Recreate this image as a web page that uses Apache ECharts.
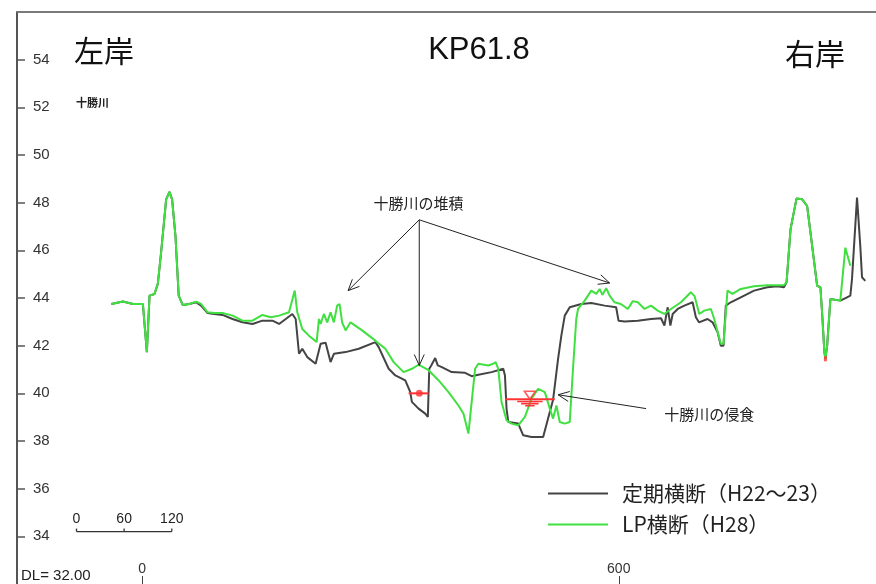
<!DOCTYPE html>
<html>
<head>
<meta charset="utf-8">
<script src="https://cdn.jsdelivr.net/npm/echarts@6/dist/echarts.min.js"></script>
<style>
  html, body { margin: 0; padding: 0; background: #fff; }
  #chart { width: 876px; height: 584px; }
</style>
</head>
<body>
<div id="chart"></div>
<script>
// 横断距離 (m) と標高 (m) — 定期横断 (H22〜23)
const surveyDist = [-38.9, -24.3, -11.8, 0.8, 5.8, 9.2, 15.4, 19.6, 23.8, 30.1, 34.3, 37.6, 41.8, 45.9, 50.9, 59.3,
  67.8, 74.0, 82.3, 90.7, 101.1, 113.7, 126.2, 138.8, 151.3, 163.9, 172.3, 180.7, 189.0, 193.2, 197.4, 201.5,
  207.8, 218.3, 224.6, 230.9, 237.1, 241.3, 256.0, 272.6, 293.6, 297.7, 310.3, 318.7, 331.2, 337.5, 339.5,
  347.9, 356.3, 359.6, 361.4, 363.9, 368.9, 372.1, 377.2, 389.7, 406.5, 414.8, 423.2, 439.9, 454.6, 456.7,
  458.7, 460.9, 473.4, 479.7, 490.1, 504.8, 511.0, 517.3, 523.6, 527.7, 532.0, 538.3, 552.8, 565.4, 582.2,
  596.7, 599.7, 607.3, 624.0, 640.6, 653.2, 657.5, 661.6, 665.0, 667.9, 674.2, 682.6, 693.0, 697.1, 701.0,
  711.8, 718.1, 724.4, 728.5, 731.9, 734.8, 741.0, 753.6, 770.4, 787.1, 799.6, 808.0, 811.3, 816.3, 823.8,
  831.0, 837.2, 843.5, 849.8, 853.9, 856.0, 858.9, 860.2, 862.4, 866.5, 879.0, 887.4, 891.6, 893.7, 900.0,
  904.1, 906.3, 910.4];
const surveyElev = [43.75, 43.85, 43.75, 43.75, 41.73, 44.10, 44.17, 44.59, 45.93, 48.14, 48.45, 48.14, 46.61, 44.10, 43.71, 43.75,
  43.82, 43.68, 43.37, 43.33, 43.29, 43.12, 42.98, 42.91, 43.05, 43.05, 42.91, 43.12, 43.33, 43.12, 41.66, 41.87,
  41.52, 41.24, 42.08, 42.12, 41.31, 41.66, 41.73, 41.87, 42.15, 41.94, 41.03, 40.75, 40.54, 40.05, 39.64,
  39.36, 39.15, 39.01, 41.03, 41.17, 41.48, 41.17, 41.10, 40.89, 40.86, 40.72, 40.78, 40.89, 41.03, 40.75,
  39.36, 38.80, 38.73, 38.24, 38.17, 38.17, 38.94, 39.73, 41.45, 42.42, 43.26, 43.61, 43.75, 43.79, 43.68,
  43.61, 43.05, 43.01, 43.05, 43.12, 43.15, 42.84, 43.61, 42.84, 43.33, 43.54, 43.68, 43.82, 43.19, 42.98,
  43.12, 42.98, 42.57, 42.00, 42.00, 43.68, 43.82, 44.03, 44.31, 44.45, 44.49, 44.45, 44.66, 46.89, 48.17,
  48.14, 47.86, 46.19, 44.51, 44.45, 43.40, 41.73, 41.45, 42.00, 43.96, 43.89, 44.03, 44.10, 44.80, 48.21,
  46.19, 44.87, 44.72];

// 横断距離 (m) と標高 (m) — LP横断 (H28)
const lpDist = [-38.9, -24.3, -11.8, 0.8, 5.8, 9.2, 15.4, 19.6, 23.8, 30.1, 34.3, 37.6, 41.8, 45.9, 50.9, 59.3,
  67.8, 74.0, 82.3, 90.7, 101.1, 113.7, 126.2, 138.8, 151.3, 161.9, 172.3, 184.8, 192.0, 195.2, 201.5, 209.9,
  219.6, 222.5, 224.6, 228.7, 232.9, 237.1, 241.3, 245.4, 248.4, 251.7, 256.0, 262.2, 276.8, 293.6, 306.1,
  316.6, 329.1, 339.5, 347.9, 360.5, 373.0, 385.6, 398.1, 404.4, 410.7, 414.8, 419.1, 423.2, 435.8, 442.0,
  444.9, 448.3, 452.4, 458.7, 465.0, 473.4, 481.8, 490.1, 498.5, 506.9, 513.2, 517.3, 521.5, 525.7, 532.0,
  538.3, 542.4, 546.5, 548.7, 557.1, 565.4, 571.7, 575.9, 579.4, 584.2, 588.5, 594.7, 602.6, 611.4, 617.7,
  624.0, 632.4, 640.6, 649.0, 657.5, 665.7, 678.3, 690.8, 695.4, 701.4, 707.7, 716.0, 720.2, 728.5, 731.9,
  736.9, 743.2, 753.6, 770.4, 787.1, 808.0, 811.3, 816.3, 823.8, 831.0, 837.2, 843.5, 849.8, 853.9, 856.0,
  858.9, 860.2, 862.4, 866.5, 879.0, 885.3, 891.6];
const lpElev = [43.75, 43.85, 43.75, 43.75, 41.73, 44.10, 44.17, 44.59, 45.93, 48.14, 48.45, 48.14, 46.61, 44.10, 43.71, 43.75,
  43.85, 43.75, 43.40, 43.37, 43.37, 43.26, 43.05, 43.05, 43.29, 43.19, 43.26, 43.40, 44.31, 43.40, 42.70, 42.42,
  42.15, 43.12, 42.91, 43.33, 42.98, 43.40, 42.98, 43.68, 43.75, 42.98, 42.64, 42.98, 42.64, 42.21, 41.87,
  41.31, 40.89, 41.03, 41.20, 40.97, 40.55, 40.05, 39.49, 39.15, 38.31, 39.64, 41.03, 41.24, 41.17, 41.24,
  41.31, 41.03, 39.64, 38.87, 38.73, 38.66, 39.01, 39.77, 40.19, 40.05, 39.36, 38.94, 39.49, 38.80, 38.73,
  38.80, 41.03, 43.12, 43.54, 43.89, 44.31, 44.17, 44.38, 44.13, 44.41, 44.10, 43.82, 43.75, 43.54, 43.87,
  43.82, 43.54, 43.68, 43.47, 43.33, 43.54, 43.82, 44.24, 44.08, 43.33, 43.47, 43.54, 43.12, 42.08, 42.08,
  44.31, 44.17, 44.38, 44.49, 44.54, 44.54, 44.66, 46.89, 48.17, 48.14, 47.86, 46.19, 44.51, 44.45, 43.40,
  41.73, 41.45, 42.00, 43.96, 43.89, 46.11, 45.35];

// 軸の目盛
const yTicks = [34, 36, 38, 40, 42, 44, 46, 48, 50, 52, 54];
const xTicks = [0, 600];

// 水位 [始点距離, 終点距離, 水位]
const waterLeft = [335.4, 360.5, 40.0];
const waterLeftDot = [348.8, 40.0];
const waterRight = [456.7, 519.4, 39.75];
const waterRightMark = [488.1, 39.75];
const lowPointMark = [860.2, 41.45];

// 注記: 十勝川の堆積 (文字位置, 矢印の根元, 矢印の先)
const depositLabel = [347.9, 47.97];
const depositOrigin = [348.8, 47.28];
const depositTips = [[259.2, 44.31], [348.8, 41.17], [588.5, 44.63]];
// 注記: 十勝川の侵食
const erosionLabel = [713.9, 39.10];
const erosionFrom = [634.4, 39.36];
const erosionTip = [523.6, 39.94];

// 縮尺バー (距離 m)
const scaleBarStart = -82.8;
const scaleBarLevel = 34.2;
const scaleBarMarks = [0, 60, 120];

const zip = (xs, ys) => xs.map((x, i) => [x, ys[i]]);
const jpFont = '"Noto Sans CJK JP", sans-serif';
const numFont = '"Liberation Sans", Arial, sans-serif';
const red = '#ff3333';

const chart = echarts.init(document.getElementById('chart'), null, { renderer: 'canvas' });

// 水位記号の下の横線 (幅が下へ狭まる)
const hatchRows = [[16, 0.09], [11, 0.18], [6, 0.27]];
const hatchSeries = hatchRows.map(([half, drop]) => ({
  type: 'line', silent: true, symbol: 'none', z: 5,
  lineStyle: { color: red, width: 1.6 },
  data: [[waterRightMark[0] - half, waterRightMark[1] - drop], [waterRightMark[0] + half, waterRightMark[1] - drop]]
}));

chart.setOption({
  animation: false,
  backgroundColor: '#fff',
  grid: { left: 17, top: 12, width: 862, height: 574 },
  xAxis: {
    type: 'value', min: -157.7, max: 923.9,
    axisLine: { show: false, onZero: false },
    splitLine: { show: false },
    axisTick: { show: true, inside: true, length: 8, customValues: xTicks, lineStyle: { color: '#444', width: 1 } },
    axisLabel: { inside: true, margin: 8, customValues: xTicks, color: '#333', fontSize: 14, fontFamily: numFont }
  },
  yAxis: {
    type: 'value', min: 32, max: 56, interval: 2,
    axisLine: { show: true, onZero: false, lineStyle: { color: '#555', width: 2 } },
    splitLine: { show: false },
    axisTick: { show: true, inside: true, length: 8, customValues: yTicks, lineStyle: { color: '#555', width: 1.5 } },
    axisLabel: { inside: true, margin: 16, customValues: yTicks, color: '#333', fontSize: 15, fontFamily: numFont }
  },
  legend: {
    left: 548, top: 483, orient: 'vertical', padding: 0,
    icon: 'rect', itemWidth: 60, itemHeight: 2, itemGap: 10,
    data: ['定期横断（H22～23）', 'LP横断（H28）'],
    textStyle: { fontFamily: jpFont, fontSize: 21, lineHeight: 21, color: '#222', padding: [0, 0, 0, 9] }
  },
  series: [
    {
      name: '定期横断（H22～23）', type: 'line', symbol: 'none', z: 3,
      color: '#444444',
      lineStyle: { color: '#444444', width: 2 },
      data: zip(surveyDist, surveyElev)
    },
    {
      name: 'LP横断（H28）', type: 'line', symbol: 'none', z: 4,
      color: '#3fe03f',
      lineStyle: { color: '#3fe03f', width: 2 },
      data: zip(lpDist, lpElev)
    },
    {
      type: 'line', symbol: 'none', silent: true, z: 5,
      lineStyle: { color: red, width: 2 },
      data: [[waterLeft[0], waterLeft[2]], [waterLeft[1], waterLeft[2]]]
    },
    {
      type: 'line', symbol: 'none', silent: true, z: 5,
      lineStyle: { color: red, width: 2 },
      data: [[waterRight[0], waterRight[2]], [waterRight[1], waterRight[2]]]
    },
    {
      type: 'scatter', silent: true, z: 6,
      symbol: 'circle', symbolSize: 7,
      itemStyle: { color: red },
      data: [waterLeftDot]
    },
    {
      type: 'scatter', silent: true, z: 6,
      symbol: 'triangle', symbolSize: [11, 8], symbolRotate: 180, symbolOffset: [0, -4],
      itemStyle: { color: '#fff', borderColor: red, borderWidth: 1.6 },
      data: [waterRightMark]
    },
    {
      type: 'scatter', silent: true, z: 6,
      symbol: 'rect', symbolSize: [3, 5],
      itemStyle: { color: red },
      data: [lowPointMark]
    },
    ...hatchSeries
  ]
});

// 注記・縮尺バー・見出し
const px = p => chart.convertToPixel({ gridIndex: 0 }, p);

function arrow(from, tip) {
  const a = px(from), b = px(tip);
  const dx = b[0] - a[0], dy = b[1] - a[1];
  const len = Math.hypot(dx, dy);
  const ux = dx / len, uy = dy / len;
  const nx = -uy, ny = ux;
  const L = 11, W = 5;
  return [
    { type: 'line', shape: { x1: a[0], y1: a[1], x2: b[0], y2: b[1] }, style: { stroke: '#222', lineWidth: 1 }, z: 10 },
    { type: 'polyline', shape: { points: [[b[0] - L * ux + W * nx, b[1] - L * uy + W * ny], b, [b[0] - L * ux - W * nx, b[1] - L * uy - W * ny]] },
      style: { stroke: '#222', lineWidth: 1, fill: null }, z: 10 }
  ];
}

const graphics = [];

// 枠の上辺
const frameTop = px([-157.7, 56]);
graphics.push({ type: 'line', shape: { x1: frameTop[0], y1: frameTop[1], x2: 876, y2: frameTop[1] }, style: { stroke: '#7a7a7a', lineWidth: 2 }, z: 10 });

depositTips.forEach(t => graphics.push(...arrow(depositOrigin, t)));
graphics.push(...arrow(erosionFrom, erosionTip));

const dl = px(depositLabel), el = px(erosionLabel);
graphics.push(
  { type: 'text', x: dl[0], y: dl[1], z: 10, style: { text: '十勝川の堆積', font: '15px ' + jpFont, fill: '#222', align: 'center', verticalAlign: 'middle' } },
  { type: 'text', x: el[0], y: el[1], z: 10, style: { text: '十勝川の侵食', font: '15px ' + jpFont, fill: '#222', align: 'center', verticalAlign: 'middle' } }
);

// 縮尺バー
const sb0 = px([scaleBarStart, scaleBarLevel]);
const sb1 = px([scaleBarStart + scaleBarMarks[scaleBarMarks.length - 1], scaleBarLevel]);
graphics.push({ type: 'line', shape: { x1: sb0[0], y1: sb0[1], x2: sb1[0], y2: sb1[1] }, style: { stroke: '#333', lineWidth: 1.3 }, z: 10 });
scaleBarMarks.forEach(m => {
  const p = px([scaleBarStart + m, scaleBarLevel]);
  graphics.push(
    { type: 'line', shape: { x1: p[0], y1: p[1], x2: p[0], y2: p[1] - 3 }, style: { stroke: '#333', lineWidth: 1.3 }, z: 10 },
    { type: 'text', x: p[0], y: p[1] - 5, z: 10, style: { text: String(m), font: '14px "Liberation Sans Narrow", ' + numFont, fill: '#222', align: 'center', verticalAlign: 'bottom' } }
  );
});

graphics.push(
  { type: 'text', left: 74, top: 36, z: 10, style: { text: '左岸', font: '30px ' + jpFont, fill: '#111' } },
  { type: 'text', left: 785, top: 39, z: 10, style: { text: '右岸', font: '30px ' + jpFont, fill: '#111' } },
  { type: 'text', x: 479, y: 50, z: 10, style: { text: 'KP61.8', font: '31px ' + numFont, fill: '#111', align: 'center', verticalAlign: 'middle' } },
  { type: 'text', x: 76, y: 103, z: 10, style: { text: '十勝川', font: 'bold 11px ' + jpFont, fill: '#222', verticalAlign: 'middle' } },
  { type: 'text', x: 21, y: 576, z: 10, style: { text: 'DL= 32.00', font: '15px ' + numFont, fill: '#222', verticalAlign: 'middle' } }
);

chart.setOption({ graphic: graphics });
</script>
</body>
</html>
